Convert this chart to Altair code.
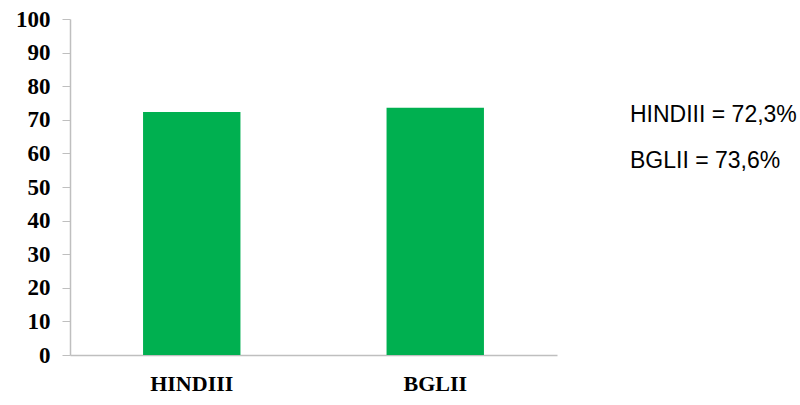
import altair as alt
import pandas as pd

categories = ["HINDIII", "BGLII"]
values = [72.3, 73.6]
note_labels = ["HINDIII = 72,3%", "BGLII = 73,6%"]

df = pd.DataFrame({"cat": categories, "val": values})

bars = alt.Chart(df).mark_bar(color="#00B050", width=alt.RelativeBandSize(0.4)).encode(
    x=alt.X("cat:N", sort=categories, title=None,
            scale=alt.Scale(paddingInner=0, paddingOuter=0),
            axis=alt.Axis(labelAngle=0, ticks=False, labelFont="Liberation Serif",
                          labelFontWeight="bold", labelFontSize=22, labelColor="#000000",
                          labelPadding=18, domainColor="#BFBFBF", domainWidth=1.5)),
    y=alt.Y("val:Q", title=None,
            scale=alt.Scale(domain=[0, 100], nice=False),
            axis=alt.Axis(values=list(range(0, 101, 10)), grid=False, tickSize=8,
                          tickColor="#BFBFBF", domainColor="#BFBFBF", domainWidth=1.5,
                          labelFont="Liberation Serif", labelFontWeight="bold",
                          labelFontSize=23, labelColor="#000000", labelPadding=12)),
)

notes_df = pd.DataFrame({"t": note_labels, "ypix": [103, 149]})
notes = alt.Chart(notes_df).mark_text(
    align="left", baseline="alphabetic", font="Liberation Sans", fontSize=23, color="#000000"
).encode(
    x=alt.value(560),
    y=alt.Y("ypix:Q", scale=None),
    text="t:N",
)

chart = alt.layer(bars, notes).properties(
    width=487, height=336,
    autosize=alt.AutoSizeParams(type="none"),
    padding={"left": 70, "top": 19, "right": 243, "bottom": 50},
).configure_view(stroke=None)

chart.save("out.html", embed_options={"renderer": "svg", "actions": False})
